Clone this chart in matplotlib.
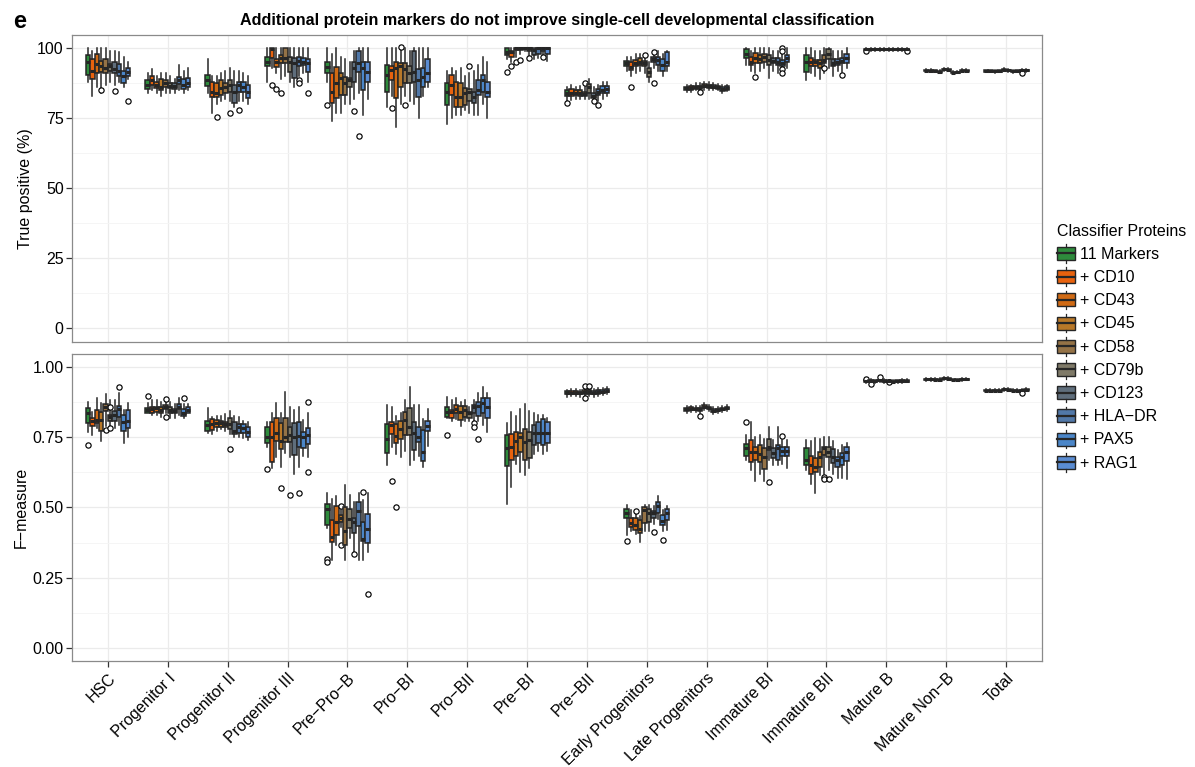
import numpy as np
import matplotlib
matplotlib.use("Agg")
import matplotlib.pyplot as plt
from matplotlib.patches import Rectangle
from matplotlib.lines import Line2D
from matplotlib.legend_handler import HandlerBase

plt.rcParams['font.family'] = ['Liberation Sans', 'DejaVu Sans']

# categories and classifier groups
categories = ["HSC", "Progenitor I", "Progenitor II", "Progenitor III", "Pre\u2212Pro\u2212B",
              "Pro\u2212BI", "Pro\u2212BII", "Pre\u2212BI", "Pre\u2212BII", "Early Progenitors",
              "Late Progenitors", "Immature BI", "Immature BII", "Mature B",
              "Mature Non\u2212B", "Total"]
proteins = ["11 Markers", "+ CD10", "+ CD43", "+ CD45", "+ CD58", "+ CD79b",
            "+ CD123", "+ HLA\u2212DR", "+ PAX5", "+ RAG1"]
colors = ["#2E8B3C", "#E8620E", "#D06A14", "#B87828", "#947246", "#7F7A68",
          "#5F6E7C", "#5178A8", "#4B86C8", "#5A8CD2"]

# True positive (%) - box statistics, one row per category, one column per protein set
tp_lo = [
    [88, 83, 86, 84, 87, 88, 87, 88, 86, 89],
    [84, 85, 84, 83, 84, 84, 84, 85, 84, 85],
    [84, 77, 80, 81, 82, 81, 79, 81, 81, 80],
    [88, 93, 91, 89, 90, 88, 86, 90, 91, 88],
    [88, 74, 77, 77, 80, 80, 82, 84, 76, 82],
    [79, 83, 72, 80, 83, 81, 80, 75, 83, 86],
    [73, 75, 76, 76, 78, 77, 76, 76, 80, 75],
    [96, 95, 97, 98, 99, 97, 96, 96.5, 97, 95.5],
    [81, 81.5, 82, 82, 82, 82, 81, 81, 82, 83],
    [92, 90, 91, 92, 91, 88, 93, 92, 90, 92],
    [84.5, 84.5, 85, 84.5, 85, 85, 85, 85, 84, 84.7],
    [94, 92, 91, 92, 93, 89.3, 92, 91, 93, 93],
    [88.7, 91, 90, 89, 91, 93, 90, 92, 91.5, 93],
    [99.2, 99.2, 99.2, 99.2, 99.2, 99.2, 99.2, 99.2, 99.2, 99.2],
    [91.5, 91.5, 91.4, 91.2, 92.0, 91.9, 90.8, 91.0, 91.5, 91.5],
    [91.4, 91.4, 91.3, 91.4, 91.8, 91.7, 91.3, 91.4, 91.6, 91.7],
]
tp_q1 = [
    [90.5, 89, 91, 91.5, 91, 92, 91, 90, 87.5, 90],
    [85.4, 87, 85.7, 85, 86.3, 85.7, 85.6, 87.3, 85.4, 86.1],
    [86.5, 82.7, 82.7, 83.3, 84, 84.5, 80.6, 84.5, 84.5, 82.1],
    [93.5, 96.4, 93.2, 94.6, 94.6, 91.7, 89.3, 93.5, 94, 91.7],
    [91.1, 80.4, 82.1, 83.3, 83.3, 86.3, 88.1, 91.7, 85.1, 88.1],
    [84.5, 88.7, 82.1, 86.3, 87.5, 87.5, 87.9, 82.7, 86.3, 88.1],
    [79.8, 83.3, 79.2, 79.2, 79.8, 81, 80.4, 83.3, 84.5, 82.7],
    [97.6, 96.8, 99.5, 99.5, 99.8, 99, 97.6, 98, 99, 98],
    [82.8, 83, 83.3, 83, 83, 83.9, 82.1, 83.3, 83.9, 83.9],
    [93.7, 92.3, 93.7, 94, 93.5, 89.9, 95.2, 94, 92, 93.7],
    [85, 85.2, 85.5, 85.4, 86, 85.8, 85.7, 85.5, 84.8, 85.2],
    [96.4, 94, 94.6, 94.6, 95.2, 94, 94.6, 94, 93.7, 95.2],
    [91.7, 93.7, 93.5, 92.9, 94.6, 96, 93.5, 94, 94.6, 94.6],
    [99.4, 99.4, 99.4, 99.4, 99.4, 99.4, 99.4, 99.4, 99.4, 99.4],
    [91.8, 91.8, 91.7, 91.5, 92.3, 92.2, 91.1, 91.3, 91.8, 91.8],
    [91.7, 91.7, 91.6, 91.7, 92.1, 92.0, 91.6, 91.7, 91.9, 92.0],
]
tp_med = [
    [95, 92, 94.5, 93.5, 93, 93.5, 92.5, 92, 90, 91.5],
    [87, 88.5, 86.9, 86.3, 87.5, 86.5, 86.5, 88.7, 86.9, 87.7],
    [88.7, 84.5, 84.2, 85.7, 86, 86.9, 84.5, 86.9, 86.3, 84.5],
    [95, 99.6, 95.2, 96.4, 96.4, 95.2, 94.6, 95.6, 95.2, 94.6],
    [93.2, 84.5, 87.5, 89.3, 87.5, 88.5, 92.9, 94.6, 92.9, 91.7],
    [90.5, 92.3, 92.9, 93.5, 92.5, 91, 91.7, 88.7, 89.9, 91],
    [84.5, 86.9, 82.7, 82.7, 83.9, 84.5, 82.7, 85.1, 88.7, 84.5],
    [98.5, 98.5, 100, 100, 100, 100, 99.5, 100, 100, 100],
    [84, 84.2, 84.2, 83.9, 83.7, 86.1, 83, 84.5, 85.1, 85.4],
    [94.6, 93.2, 94.6, 95.2, 94.6, 91.7, 96, 95.8, 94, 95.2],
    [85.7, 85.8, 86, 86.1, 86.7, 86.5, 86.3, 86, 85.4, 85.8],
    [98, 95.2, 96.4, 96, 96.8, 95.8, 95.6, 95.2, 94.9, 96.4],
    [95.2, 95.2, 95.2, 94.6, 95.8, 98, 94.9, 95.2, 95.6, 96.4],
    [99.6, 99.6, 99.6, 99.6, 99.6, 99.6, 99.6, 99.6, 99.6, 99.6],
    [92.0, 92.0, 91.9, 91.7, 92.5, 92.4, 91.3, 91.5, 92.0, 92.0],
    [91.9, 91.9, 91.8, 91.9, 92.3, 92.2, 91.8, 91.9, 92.1, 92.2],
]
tp_q3 = [
    [97.5, 96, 98, 95.5, 96, 94.5, 95, 94.5, 92, 93],
    [88.7, 90, 88, 89, 88.7, 87.7, 87.5, 89.9, 88.9, 89.3],
    [90.5, 88, 87.5, 88.5, 87.5, 88.7, 86.9, 88, 88, 86.9],
    [96.8, 100, 96, 97.6, 100, 97, 96.4, 97, 96.4, 96],
    [95, 91.3, 93.2, 91.3, 89.9, 89.3, 95.2, 99, 95.2, 95.2],
    [94, 93.5, 95.2, 94.9, 94.6, 93.5, 99, 92.5, 92.9, 96],
    [87.5, 90.5, 88, 87.5, 85.7, 85.4, 84.5, 88.7, 90.5, 88],
    [100, 99.2, 100, 100, 100, 100, 100, 100, 100, 100],
    [85, 85.4, 85.1, 85.1, 84.5, 87.2, 83.9, 85.4, 86.6, 86.6],
    [95.6, 95.2, 95.8, 96.4, 95.6, 92.9, 97, 97, 96, 98.5],
    [86.3, 86.5, 86.7, 86.6, 87.3, 87, 86.9, 86.6, 86.2, 86.5],
    [99.6, 97, 98.2, 97.6, 98, 97.6, 96.4, 96.4, 95.8, 97.6],
    [97.6, 96.4, 95.8, 95.8, 97.6, 99.6, 96, 96, 96.4, 98],
    [99.8, 99.8, 99.8, 99.8, 99.8, 99.8, 99.8, 99.8, 99.8, 99.8],
    [92.2, 92.2, 92.1, 91.9, 92.7, 92.6, 91.5, 91.7, 92.2, 92.2],
    [92.1, 92.1, 92.0, 92.1, 92.5, 92.4, 92.0, 92.1, 92.3, 92.4],
]
tp_hi = [
    [100, 99, 100, 100, 100, 99, 99, 98.5, 97, 95],
    [91, 92.5, 90, 91, 91, 90, 89, 94, 92, 93],
    [96, 90, 90, 91, 92, 93, 92, 92, 91, 90],
    [100, 100, 100, 100, 100, 100, 100, 100, 100, 100],
    [100, 98, 100, 97, 96, 95, 99, 100, 100, 100],
    [100, 100, 100, 100, 100, 99, 100, 100, 100, 100],
    [92, 93, 92, 93, 90, 91, 92, 94, 97, 95],
    [100, 100, 100, 100, 100, 100, 100, 100, 100, 100],
    [86, 87, 86, 86.5, 86, 89, 86, 87, 88, 88],
    [97, 97, 98, 98, 98, 95, 98.5, 99, 98, 99],
    [87, 87, 87.5, 87.5, 88, 88, 87.7, 87.3, 86.8, 87],
    [100, 99, 100, 100, 100, 100, 99, 99, 98, 100],
    [100, 100, 99, 99, 100, 100, 99, 99, 99, 100],
    [100, 100, 100, 100, 100, 100, 100, 100, 100, 100],
    [92.5, 92.5, 92.4, 92.2, 93.0, 92.9, 91.8, 92.0, 92.5, 92.5],
    [92.4, 92.4, 92.3, 92.4, 92.8, 92.7, 92.3, 92.4, 92.6, 92.7],
]
# outliers: (category index, protein index, value)
tp_fliers = [
    (0, 3, 85.1), (0, 6, 84.8), (0, 9, 81.3),
    (2, 2, 75.6), (2, 5, 76.8), (2, 7, 78.0),
    (3, 1, 86.9), (3, 2, 85.4), (3, 3, 84.2), (3, 7, 88.7), (3, 7, 87.5), (3, 9, 83.9),
    (4, 0, 79.8), (4, 6, 77.7), (4, 7, 68.7),
    (5, 1, 78.6), (5, 4, 79.8), (5, 3, 100.5),
    (6, 5, 93.5),
    (7, 0, 91.7), (7, 1, 93.5), (7, 2, 95.0), (7, 3, 95.8), (7, 5, 96.4), (7, 8, 97.0),
    (8, 0, 80.4), (8, 4, 87.5), (8, 6, 81.3), (8, 7, 79.8),
    (9, 1, 86.3), (9, 4, 97.6), (9, 6, 98.8), (9, 6, 87.7),
    (10, 3, 84.5),
    (11, 2, 89.6), (11, 8, 92.5), (11, 8, 91.3), (11, 8, 100.0), (11, 8, 99.2),
    (12, 4, 92.9), (12, 8, 90.5),
    (13, 0, 99.0), (13, 9, 99.2),
    (15, 8, 91.1),
]

# F-measure - box statistics
fm_lo = [
    [0.770, 0.758, 0.782, 0.738, 0.790, 0.788, 0.782, 0.794, 0.731, 0.750],
    [0.836, 0.830, 0.830, 0.824, 0.836, 0.820, 0.820, 0.830, 0.820, 0.836],
    [0.764, 0.762, 0.774, 0.779, 0.774, 0.762, 0.752, 0.750, 0.748, 0.740],
    [0.717, 0.640, 0.681, 0.645, 0.693, 0.681, 0.621, 0.645, 0.683, 0.681],
    [0.426, 0.313, 0.366, 0.430, 0.313, 0.390, 0.342, 0.313, 0.313, 0.342],
    [0.651, 0.717, 0.690, 0.679, 0.700, 0.651, 0.670, 0.685, 0.643, 0.720],
    [0.818, 0.810, 0.815, 0.790, 0.810, 0.810, 0.810, 0.810, 0.795, 0.770],
    [0.512, 0.574, 0.655, 0.627, 0.615, 0.640, 0.690, 0.700, 0.690, 0.700],
    [0.895, 0.896, 0.897, 0.895, 0.898, 0.896, 0.893, 0.897, 0.900, 0.905],
    [0.401, 0.415, 0.405, 0.377, 0.415, 0.415, 0.440, 0.460, 0.415, 0.420],
    [0.838, 0.840, 0.839, 0.837, 0.848, 0.843, 0.832, 0.836, 0.840, 0.844],
    [0.669, 0.633, 0.594, 0.620, 0.594, 0.669, 0.650, 0.650, 0.655, 0.640],
    [0.633, 0.583, 0.550, 0.615, 0.620, 0.633, 0.620, 0.605, 0.605, 0.600],
    [0.945, 0.946, 0.944, 0.947, 0.945, 0.944, 0.943, 0.944, 0.945, 0.946],
    [0.952, 0.952, 0.951, 0.951, 0.956, 0.955, 0.950, 0.950, 0.952, 0.953],
    [0.912, 0.912, 0.911, 0.912, 0.916, 0.915, 0.911, 0.911, 0.913, 0.915],
]
fm_q1 = [
    [0.802, 0.790, 0.802, 0.774, 0.845, 0.810, 0.810, 0.824, 0.774, 0.782],
    [0.838, 0.838, 0.842, 0.836, 0.850, 0.836, 0.836, 0.850, 0.826, 0.838],
    [0.774, 0.776, 0.786, 0.786, 0.786, 0.779, 0.762, 0.764, 0.767, 0.750],
    [0.731, 0.663, 0.738, 0.707, 0.735, 0.735, 0.687, 0.714, 0.711, 0.726],
    [0.438, 0.378, 0.402, 0.450, 0.366, 0.426, 0.410, 0.434, 0.382, 0.372],
    [0.693, 0.762, 0.731, 0.743, 0.758, 0.758, 0.705, 0.735, 0.667, 0.774],
    [0.821, 0.818, 0.838, 0.812, 0.824, 0.818, 0.836, 0.826, 0.836, 0.818],
    [0.648, 0.669, 0.683, 0.699, 0.671, 0.675, 0.723, 0.731, 0.723, 0.731],
    [0.905, 0.904, 0.905, 0.904, 0.906, 0.905, 0.903, 0.906, 0.908, 0.912],
    [0.461, 0.429, 0.419, 0.410, 0.443, 0.449, 0.461, 0.479, 0.437, 0.457],
    [0.845, 0.848, 0.846, 0.845, 0.855, 0.850, 0.840, 0.843, 0.848, 0.851],
    [0.683, 0.663, 0.669, 0.663, 0.636, 0.705, 0.675, 0.669, 0.683, 0.683],
    [0.651, 0.619, 0.627, 0.645, 0.687, 0.681, 0.660, 0.643, 0.651, 0.667],
    [0.948, 0.949, 0.947, 0.950, 0.948, 0.947, 0.946, 0.947, 0.948, 0.949],
    [0.955, 0.955, 0.954, 0.954, 0.959, 0.958, 0.953, 0.953, 0.955, 0.956],
    [0.915, 0.915, 0.914, 0.915, 0.919, 0.918, 0.914, 0.914, 0.916, 0.918],
]
fm_med = [
    [0.838, 0.810, 0.812, 0.812, 0.860, 0.824, 0.830, 0.850, 0.806, 0.810],
    [0.848, 0.850, 0.854, 0.848, 0.860, 0.848, 0.845, 0.860, 0.838, 0.848],
    [0.794, 0.798, 0.802, 0.800, 0.798, 0.798, 0.774, 0.786, 0.782, 0.770],
    [0.750, 0.750, 0.764, 0.738, 0.750, 0.758, 0.750, 0.755, 0.750, 0.758],
    [0.494, 0.396, 0.450, 0.462, 0.417, 0.458, 0.450, 0.489, 0.387, 0.422],
    [0.746, 0.794, 0.755, 0.779, 0.812, 0.788, 0.764, 0.752, 0.699, 0.790],
    [0.842, 0.842, 0.850, 0.842, 0.848, 0.836, 0.857, 0.862, 0.871, 0.860],
    [0.711, 0.714, 0.738, 0.750, 0.735, 0.740, 0.764, 0.767, 0.767, 0.767],
    [0.910, 0.909, 0.910, 0.908, 0.911, 0.912, 0.908, 0.912, 0.913, 0.917],
    [0.479, 0.443, 0.437, 0.425, 0.490, 0.479, 0.479, 0.505, 0.452, 0.481],
    [0.850, 0.853, 0.851, 0.850, 0.860, 0.855, 0.845, 0.848, 0.852, 0.855],
    [0.711, 0.699, 0.699, 0.690, 0.681, 0.717, 0.693, 0.711, 0.702, 0.702],
    [0.669, 0.651, 0.645, 0.681, 0.711, 0.699, 0.681, 0.669, 0.681, 0.699],
    [0.951, 0.952, 0.950, 0.953, 0.951, 0.950, 0.949, 0.950, 0.951, 0.952],
    [0.957, 0.957, 0.956, 0.956, 0.961, 0.960, 0.955, 0.955, 0.957, 0.958],
    [0.917, 0.917, 0.916, 0.917, 0.921, 0.920, 0.916, 0.916, 0.918, 0.920],
]
fm_q3 = [
    [0.854, 0.818, 0.848, 0.842, 0.869, 0.830, 0.845, 0.862, 0.830, 0.848],
    [0.854, 0.857, 0.860, 0.857, 0.865, 0.857, 0.850, 0.869, 0.850, 0.860],
    [0.810, 0.814, 0.812, 0.810, 0.806, 0.818, 0.806, 0.798, 0.798, 0.788],
    [0.788, 0.806, 0.818, 0.802, 0.818, 0.788, 0.800, 0.806, 0.770, 0.782],
    [0.512, 0.456, 0.506, 0.473, 0.500, 0.494, 0.462, 0.519, 0.450, 0.477],
    [0.798, 0.806, 0.798, 0.810, 0.842, 0.854, 0.806, 0.788, 0.776, 0.810],
    [0.857, 0.848, 0.865, 0.862, 0.862, 0.842, 0.865, 0.877, 0.889, 0.889],
    [0.758, 0.762, 0.770, 0.764, 0.779, 0.770, 0.794, 0.806, 0.814, 0.806],
    [0.915, 0.914, 0.915, 0.913, 0.918, 0.920, 0.914, 0.918, 0.920, 0.924],
    [0.493, 0.464, 0.461, 0.455, 0.502, 0.496, 0.488, 0.520, 0.473, 0.493],
    [0.856, 0.857, 0.855, 0.855, 0.865, 0.860, 0.850, 0.853, 0.856, 0.859],
    [0.726, 0.740, 0.717, 0.723, 0.711, 0.743, 0.711, 0.723, 0.714, 0.717],
    [0.711, 0.683, 0.675, 0.699, 0.717, 0.717, 0.707, 0.681, 0.695, 0.714],
    [0.954, 0.955, 0.953, 0.956, 0.954, 0.953, 0.952, 0.953, 0.954, 0.955],
    [0.959, 0.959, 0.958, 0.958, 0.963, 0.962, 0.957, 0.957, 0.959, 0.960],
    [0.919, 0.919, 0.918, 0.919, 0.923, 0.922, 0.918, 0.918, 0.920, 0.922],
]
fm_hi = [
    [0.875, 0.842, 0.889, 0.871, 0.905, 0.883, 0.883, 0.910, 0.848, 0.871],
    [0.874, 0.883, 0.883, 0.877, 0.883, 0.877, 0.869, 0.889, 0.869, 0.869],
    [0.854, 0.824, 0.827, 0.827, 0.833, 0.845, 0.827, 0.824, 0.810, 0.806],
    [0.806, 0.836, 0.871, 0.836, 0.913, 0.860, 0.848, 0.860, 0.812, 0.836],
    [0.551, 0.529, 0.540, 0.490, 0.580, 0.545, 0.518, 0.550, 0.525, 0.551],
    [0.865, 0.860, 0.826, 0.836, 0.883, 0.931, 0.865, 0.865, 0.817, 0.850],
    [0.895, 0.883, 0.889, 0.877, 0.883, 0.857, 0.883, 0.907, 0.931, 0.907],
    [0.800, 0.840, 0.826, 0.850, 0.869, 0.845, 0.836, 0.830, 0.830, 0.818],
    [0.920, 0.921, 0.922, 0.920, 0.925, 0.926, 0.921, 0.925, 0.927, 0.930],
    [0.508, 0.490, 0.475, 0.470, 0.508, 0.508, 0.505, 0.540, 0.490, 0.505],
    [0.862, 0.863, 0.862, 0.862, 0.872, 0.867, 0.857, 0.860, 0.862, 0.865],
    [0.758, 0.806, 0.752, 0.758, 0.746, 0.788, 0.740, 0.788, 0.740, 0.740],
    [0.740, 0.736, 0.748, 0.745, 0.750, 0.750, 0.736, 0.705, 0.723, 0.729],
    [0.957, 0.958, 0.956, 0.959, 0.957, 0.956, 0.955, 0.956, 0.957, 0.958],
    [0.962, 0.962, 0.961, 0.961, 0.966, 0.965, 0.960, 0.960, 0.962, 0.963],
    [0.922, 0.922, 0.921, 0.922, 0.926, 0.925, 0.921, 0.921, 0.923, 0.925],
]
fm_fliers = [
    (0, 0, 0.723), (0, 4, 0.776), (0, 5, 0.857), (0, 5, 0.785), (0, 7, 0.931),
    (1, 0, 0.898), (1, 4, 0.886), (1, 4, 0.824), (1, 8, 0.892),
    (2, 5, 0.707),
    (3, 0, 0.637), (3, 3, 0.571), (3, 5, 0.544), (3, 7, 0.550), (3, 9, 0.877), (3, 9, 0.627),
    (4, 0, 0.316), (4, 0, 0.307), (4, 3, 0.507), (4, 3, 0.366), (4, 6, 0.333), (4, 8, 0.557), (4, 9, 0.190),
    (5, 1, 0.594), (5, 2, 0.500),
    (6, 0, 0.758), (6, 6, 0.800), (6, 6, 0.786), (6, 7, 0.743),
    (8, 4, 0.933), (8, 4, 0.890), (8, 5, 0.932),
    (9, 0, 0.380), (9, 2, 0.488), (9, 6, 0.413), (9, 8, 0.383),
    (10, 3, 0.827),
    (11, 0, 0.804), (11, 5, 0.592), (11, 8, 0.755),
    (12, 4, 0.607), (12, 4, 0.600), (12, 5, 0.600),
    (13, 0, 0.957), (13, 1, 0.940), (13, 3, 0.964), (13, 5, 0.946),
    (15, 8, 0.908),
]

EDGE = "#262626"
BOX_W = 0.075
FS = 11.5


def draw_panel(ax, lo, q1, med, q3, hi, fliers):
    n_cat = len(categories)
    n_grp = len(proteins)
    for j in range(n_grp):
        stats = []
        for i in range(n_cat):
            fl = [v for (c, g, v) in fliers if c == i and g == j]
            stats.append(dict(whislo=lo[i][j], q1=q1[i][j], med=med[i][j],
                              q3=q3[i][j], whishi=hi[i][j], fliers=fl))
        pos = np.arange(n_cat) + (j - (n_grp - 1) / 2) * BOX_W
        ax.bxp(stats, positions=pos, widths=BOX_W, patch_artist=True,
               showcaps=False, manage_ticks=False,
               boxprops=dict(facecolor=colors[j], edgecolor=EDGE, linewidth=1.1),
               whiskerprops=dict(color=EDGE, linewidth=1.1),
               medianprops=dict(color=EDGE, linewidth=2.2, solid_capstyle="butt"),
               flierprops=dict(marker="o", markersize=3.8, markerfacecolor="white",
                               markeredgecolor="black", markeredgewidth=0.85))
    ax.set_xlim(-0.6, n_cat - 0.4)
    ax.set_xticks(np.arange(n_cat))
    ax.grid(True, which="major", color="#EBEBEB", linewidth=0.9)
    ax.grid(True, which="minor", axis="y", color="#F4F4F4", linewidth=0.6)
    ax.set_axisbelow(True)
    for sp in ax.spines.values():
        sp.set_color("#8a8a8a")
        sp.set_linewidth(0.9)
    ax.tick_params(axis="both", which="major", length=4, width=0.9, color="#333333",
                   labelsize=FS, labelcolor="black", pad=2)
    ax.tick_params(axis="y", which="minor", length=0)


fig = plt.figure(figsize=(11.95, 7.67), dpi=100)
ax1 = fig.add_axes([0.0603, 0.5546, 0.8117, 0.3998])
ax2 = fig.add_axes([0.0603, 0.1382, 0.8117, 0.4003])

draw_panel(ax1, tp_lo, tp_q1, tp_med, tp_q3, tp_hi, tp_fliers)
ax1.set_ylim(-4.75, 104.75)
ax1.set_yticks([0, 25, 50, 75, 100])
ax1.set_yticks([12.5, 37.5, 62.5, 87.5], minor=True)
ax1.set_xticklabels([])
ax1.tick_params(axis="x", length=0)
ax1.set_ylabel("True positive (%)", fontsize=FS, labelpad=3)

draw_panel(ax2, fm_lo, fm_q1, fm_med, fm_q3, fm_hi, fm_fliers)
ax2.set_ylim(-0.0475, 1.0475)
ax2.set_yticks([0, 0.25, 0.5, 0.75, 1.0])
ax2.set_yticklabels(["0.00", "0.25", "0.50", "0.75", "1.00"])
ax2.set_yticks([0.125, 0.375, 0.625, 0.875], minor=True)
ax2.set_xticklabels(categories, rotation=45, ha="right", va="top",
                    rotation_mode="anchor", fontsize=FS)
ax2.tick_params(axis="x", pad=3)
ax2.set_ylabel("F\u2212measure", fontsize=FS, labelpad=3)

ax1.set_title("Additional protein markers do not improve single-cell developmental classification",
              fontsize=11.6, fontweight="bold", pad=7)
fig.text(0.011, 0.972, "e", fontsize=17, fontweight="bold", va="center")


class BoxHandler(HandlerBase):
    def create_artists(self, legend, orig_handle, xdescent, ydescent, width, height,
                       fontsize, trans):
        w = width
        x0 = -xdescent
        y0 = -ydescent
        rect = Rectangle((x0, y0 + height * 0.14), w, height * 0.72,
                         facecolor=orig_handle, edgecolor=EDGE, linewidth=1.0, transform=trans)
        med = Line2D([x0, x0 + w], [y0 + height / 2] * 2, color=EDGE, linewidth=1.6, transform=trans)
        wt = Line2D([x0 + w / 2] * 2, [y0 + height * 0.86, y0 + height * 1.02],
                    color=EDGE, linewidth=0.9, transform=trans)
        wb = Line2D([x0 + w / 2] * 2, [y0 - height * 0.02, y0 + height * 0.14],
                    color=EDGE, linewidth=0.9, transform=trans)
        return [rect, wt, wb, med]


leg = fig.legend(colors, proteins, handler_map={str: BoxHandler()},
                 loc="upper left", bbox_to_anchor=(0.879, 0.716), frameon=False,
                 title="Classifier Proteins", fontsize=FS, title_fontsize=FS,
                 handlelength=1.15, handleheight=1.35, handletextpad=0.3,
                 labelspacing=0.33, borderaxespad=0)
leg._legend_box.align = "left"

fig.savefig("out.png", dpi=100)
